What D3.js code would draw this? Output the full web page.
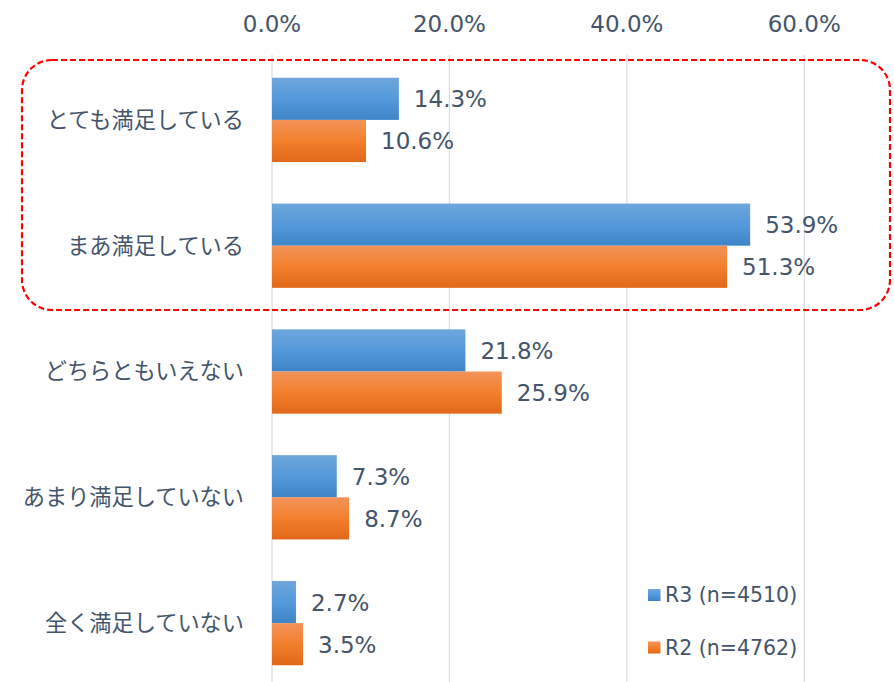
<!DOCTYPE html>
<html><head><meta charset="utf-8">
<script src="https://cdn.jsdelivr.net/npm/d3@7"></script>
<style>body{margin:0;background:#fff}svg{display:block}text{fill:#44546a}
.num{font-family:"DejaVu Sans",Verdana,sans-serif}
.cjk{font-family:"Noto Sans CJK JP","Noto Sans",sans-serif}</style>
</head><body><svg id="c" width="894" height="682"></svg>
<script>
const categories = ["とても満足している","まあ満足している","どちらともいえない","あまり満足していない","全く満足していない"];
const seriesNames = ["R3 (n=4510)","R2 (n=4762)"];
const r3 = [14.3,53.9,21.8,7.3,2.7];
const r2 = [10.6,51.3,25.9,8.7,3.5];
const ticks = [0,20,40,60];

const svg = d3.select("#c");
const defs = svg.append("defs");
function grad(id, c1, c2, c3){
  const g = defs.append("linearGradient").attr("id",id).attr("x1",0).attr("y1",0).attr("x2",0).attr("y2",1);
  g.append("stop").attr("offset","0%").attr("stop-color",c1);
  g.append("stop").attr("offset","50%").attr("stop-color",c2);
  g.append("stop").attr("offset","100%").attr("stop-color",c3);
}
grad("gb","#6fa7dc","#5499db","#3d84c8");
grad("go","#f3935a","#f2802d","#e06818");
const fills = ["url(#gb)","url(#go)"];

const x = d3.scaleLinear().domain([0,70]).range([272,893]);
const y = d3.scaleBand().domain(categories).range([57,686]).paddingInner(0.33).paddingOuter(0.165);
const ys = d3.scaleBand().domain([0,1]).range([0,y.bandwidth()]);

// gridlines
svg.append("g").selectAll("line").data(ticks).join("line")
  .attr("x1",d=>x(d)).attr("x2",d=>x(d)).attr("y1",55).attr("y2",682)
  .attr("stroke","#d9dde4").attr("stroke-width",1.3);

// axis labels
svg.append("g").selectAll("text").data(ticks).join("text").attr("class","num")
  .attr("x",d=>x(d)).attr("y",31.5).attr("text-anchor","middle")
  .style("font-size","23px").text(d=>d.toFixed(1)+"%");

// bars
const data = [r3,r2];
data.forEach((vals,si)=>{
  const g = svg.append("g");
  g.selectAll("rect").data(vals).join("rect")
    .attr("x",x(0)).attr("y",(d,i)=>y(categories[i])+ys(si))
    .attr("width",d=>x(d)-x(0)).attr("height",ys.bandwidth())
    .attr("fill",fills[si]);
  g.selectAll("text").data(vals).join("text").attr("class","num")
    .attr("x",d=>x(d)+15).attr("y",(d,i)=>y(categories[i])+ys(si)+ys.bandwidth()/2)
    .attr("dy","0.37em").style("font-size","23px").text(d=>d.toFixed(1)+"%");
});

// category labels
svg.append("g").selectAll("text").data(categories).join("text").attr("class","cjk")
  .attr("x",244).attr("y",d=>y(d)+y.bandwidth()/2).attr("dy","0.36em")
  .attr("text-anchor","end").style("font-size","22.2px").text(d=>d);

// rounded dashed box
svg.append("rect").attr("x",22).attr("y",60).attr("width",868).attr("height",250)
  .attr("rx",30).attr("ry",30).attr("fill","none").attr("stroke","#ff0000")
  .attr("stroke-width",2.2).attr("stroke-dasharray","6,3");

// legend
const lg = svg.append("g");
seriesNames.forEach((n,i)=>{
  const yy = 595 + i*52.5;
  lg.append("rect").attr("x",648).attr("y",yy-6).attr("width",12.5).attr("height",12).attr("fill",fills[i]);
  lg.append("text").attr("class","num").attr("x",665).attr("y",yy).attr("dy","0.36em").style("font-size","20.5px").text(n);
});
</script></body></html>
